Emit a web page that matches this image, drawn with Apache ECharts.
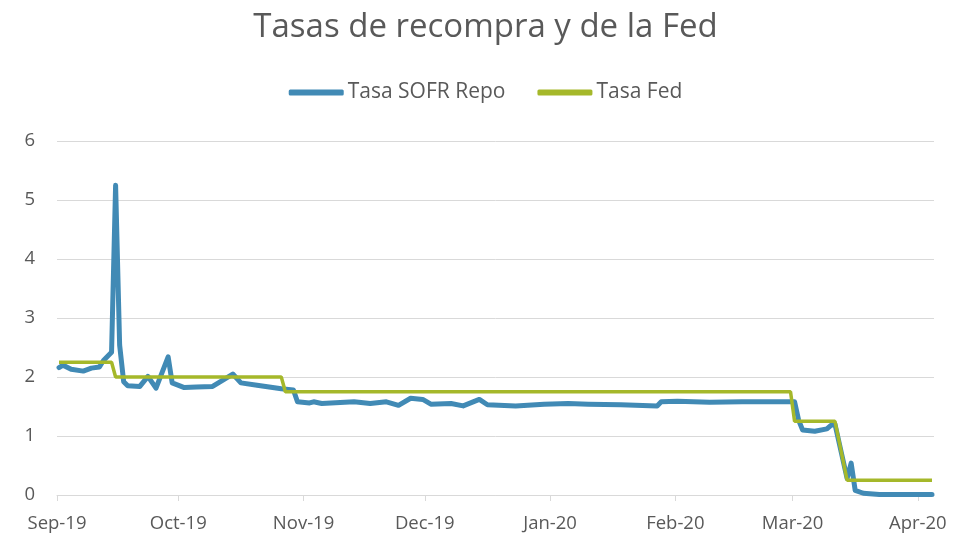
<!DOCTYPE html>
<html>
<head>
<meta charset="utf-8">
<script src="https://cdn.jsdelivr.net/npm/echarts@6/dist/echarts.min.js"></script>
<style>
    html, body {margin: 0; padding: 0; background: #fff;}
    #chart {width: 971px; height: 540px;}
</style>
</head>
<body>
<div id="chart"></div>
<script>
// Tasa SOFR Repo
const sofrDates = [
    '2019-09-01', '2019-09-02', '2019-09-04', '2019-09-07', '2019-09-09', '2019-09-11',
    '2019-09-12', '2019-09-14', '2019-09-15', '2019-09-16', '2019-09-17', '2019-09-18',
    '2019-09-21', '2019-09-23', '2019-09-25', '2019-09-28', '2019-09-29', '2019-10-02',
    '2019-10-05', '2019-10-09', '2019-10-14', '2019-10-16', '2019-10-20', '2019-10-23',
    '2019-10-26', '2019-10-29', '2019-10-30', '2019-11-02', '2019-11-03', '2019-11-05',
    '2019-11-13', '2019-11-17', '2019-11-21', '2019-11-24', '2019-11-27', '2019-11-30',
    '2019-12-02', '2019-12-07', '2019-12-10', '2019-12-14', '2019-12-16', '2019-12-23',
    '2019-12-30', '2020-01-05', '2020-01-10', '2020-01-18', '2020-01-27', '2020-01-28',
    '2020-02-01', '2020-02-09', '2020-02-17', '2020-02-27', '2020-03-01', '2020-03-02',
    '2020-03-03', '2020-03-06', '2020-03-09', '2020-03-10', '2020-03-11', '2020-03-14',
    '2020-03-15', '2020-03-16', '2020-03-18', '2020-03-22', '2020-04-04'
];
const sofrValues = [
    2.16, 2.20, 2.13, 2.10, 2.15, 2.17,
    2.28, 2.42, 5.25, 2.54, 1.92, 1.85,
    1.84, 2.01, 1.81, 2.34, 1.90, 1.82,
    1.83, 1.84, 2.05, 1.90, 1.86, 1.83,
    1.80, 1.78, 1.58, 1.56, 1.58, 1.55,
    1.58, 1.55, 1.58, 1.52, 1.64, 1.62,
    1.54, 1.55, 1.51, 1.62, 1.53, 1.51,
    1.54, 1.55, 1.54, 1.53, 1.51, 1.58,
    1.59, 1.57, 1.58, 1.58, 1.58, 1.27,
    1.10, 1.08, 1.12, 1.18, 1.20, 0.28,
    0.54, 0.08, 0.03, 0.01, 0.01
];

// Tasa Fed (límite superior)
const fedDates = [
    '2019-09-01', '2019-09-14', '2019-09-15', '2019-10-26', '2019-10-27',
    '2020-02-29', '2020-03-01', '2020-03-11', '2020-03-14', '2020-04-04'
];
const fedValues = [2.25, 2.25, 2.00, 2.00, 1.75, 1.75, 1.25, 1.25, 0.25, 0.25];

// Marcas del eje X
const xTickDates = [
    '2019-09-01', '2019-10-01', '2019-11-01', '2019-12-01',
    '2020-01-01', '2020-02-01', '2020-03-01', '2020-04-01'
];
const xTickLabels = ['Sep-19', 'Oct-19', 'Nov-19', 'Dec-19', 'Jan-20', 'Feb-20', 'Mar-20', 'Apr-20'];
const xStart = '2019-09-01';
const xEnd = '2020-04-05';

const textColor = '#595959';
const gridColor = '#d9d9d9';
const blue = '#418AB5';
const green = '#A5B82A';
const fontFamily = '"Open Sans", Lato, sans-serif';
// los puntos van al centro de cada día, como en un eje de fechas de Excel
const HALF_DAY = 12 * 3600 * 1000;

function toTime(s) {
    const [y, m, d] = s.split('-').map(Number);
    return new Date(y, m - 1, d).getTime();
}

const tickTimes = xTickDates.map(toTime);
const sofrData = sofrDates.map((d, i) => [toTime(d) + HALF_DAY, sofrValues[i]]);
const fedData = fedDates.map((d, i) => [toTime(d) + HALF_DAY, fedValues[i]]);

const chart = echarts.init(document.getElementById('chart'));

chart.setOption({
    animation: false,
    backgroundColor: '#fff',
    textStyle: {fontFamily: fontFamily},
    title: {
        text: 'Tasas de recompra y de la Fed',
        left: 'center',
        top: 6,
        textStyle: {
            fontFamily: fontFamily,
            fontSize: 33,
            fontWeight: 'normal',
            color: textColor
        }
    },
    legend: {
        top: 77,
        left: 'center',
        itemWidth: 55,
        itemHeight: 6,
        itemGap: 32,
        textStyle: {
            fontFamily: fontFamily,
            fontSize: 21,
            color: textColor,
            padding: [0, 0, 0, -1]
        },
        data: [
            {name: 'Tasa SOFR Repo', icon: 'roundRect', itemStyle: {color: blue}},
            {name: 'Tasa Fed', icon: 'roundRect', itemStyle: {color: green}}
        ]
    },
    grid: {
        left: 57,
        right: 37,
        top: 141,
        bottom: 45,
        containLabel: false
    },
    xAxis: {
        type: 'value',
        min: toTime(xStart),
        max: toTime(xEnd),
        splitLine: {show: false},
        axisLine: {show: true, lineStyle: {color: gridColor, width: 1}},
        axisTick: {
            show: true,
            length: 6,
            customValues: tickTimes,
            lineStyle: {color: gridColor}
        },
        axisLabel: {
            customValues: tickTimes,
            margin: 19,
            fontSize: 18.5,
            color: textColor,
            fontFamily: fontFamily,
            formatter: function (val) {
                const i = tickTimes.indexOf(val);
                return i >= 0 ? xTickLabels[i] : '';
            }
        }
    },
    yAxis: {
        type: 'value',
        min: 0,
        max: 6,
        interval: 1,
        axisLine: {show: false},
        axisTick: {show: false},
        axisLabel: {
            margin: 22,
            fontSize: 18.5,
            color: textColor,
            fontFamily: fontFamily
        },
        splitLine: {lineStyle: {color: gridColor, width: 1}}
    },
    series: [
        {
            name: 'Tasa SOFR Repo',
            type: 'line',
            data: sofrData,
            symbol: 'none',
            z: 2,
            lineStyle: {color: blue, width: 5, cap: 'round', join: 'round'},
            itemStyle: {color: blue}
        },
        {
            name: 'Tasa Fed',
            type: 'line',
            data: fedData,
            symbol: 'none',
            z: 3,
            lineStyle: {color: green, width: 3.5},
            itemStyle: {color: green}
        }
    ]
});
</script>
</body>
</html>
